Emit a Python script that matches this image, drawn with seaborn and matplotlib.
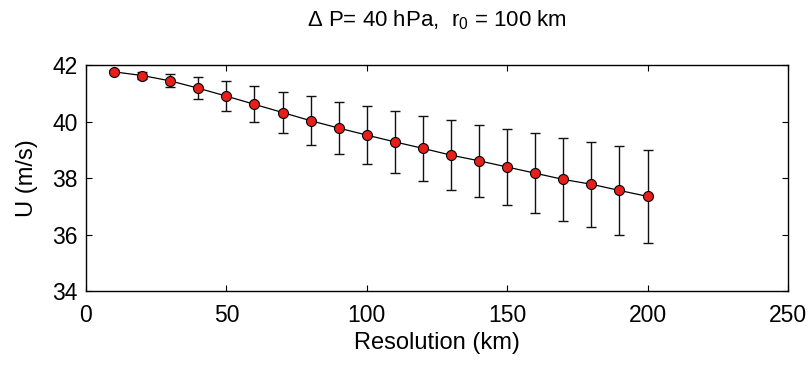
import matplotlib
matplotlib.use("Agg")
import matplotlib.pyplot as plt
import seaborn as sns
import pandas as pd

resolution = [10, 20, 30, 40, 50, 60, 70, 80, 90, 100, 110, 120, 130, 140, 150, 160, 170, 180, 190, 200]
u_mean = [41.76, 41.63, 41.44, 41.18, 40.90, 40.61, 40.32, 40.03, 39.77, 39.52,
          39.28, 39.05, 38.81, 38.61, 38.39, 38.17, 37.95, 37.78, 37.56, 37.35]
u_err = [0.05, 0.12, 0.23, 0.39, 0.52, 0.64, 0.74, 0.86, 0.93, 1.02,
         1.09, 1.15, 1.23, 1.28, 1.34, 1.41, 1.48, 1.51, 1.56, 1.65]

df = pd.DataFrame({"res": resolution, "u": u_mean, "err": u_err})

sns.set_theme(style="ticks")
plt.rcParams["font.family"] = ["Liberation Sans", "DejaVu Sans"]
plt.rcParams["mathtext.default"] = "regular"
for key in ["text.color", "axes.labelcolor", "xtick.color", "ytick.color", "axes.edgecolor"]:
    plt.rcParams[key] = "black"

fig = plt.figure(figsize=(8.09, 3.68), dpi=100)
ax = fig.add_axes([0.1063, 0.2092, 0.8677, 0.614])

ax.errorbar(df["res"], df["u"], yerr=df["err"], fmt="none", ecolor="#111111",
            elinewidth=1.0, capsize=3.3, capthick=1.0, zorder=2)
sns.lineplot(data=df, x="res", y="u", color="black", linewidth=0.9, ax=ax, zorder=3)
sns.scatterplot(data=df, x="res", y="u", color="#e81e1a", edgecolor="black",
                linewidth=0.8, s=52, ax=ax, zorder=4)

ax.set_xlim(0, 250)
ax.set_ylim(34, 42)
ax.set_xticks([0, 50, 100, 150, 200, 250])
ax.set_yticks([34, 36, 38, 40, 42])
ax.tick_params(direction="in", top=True, right=True, labelsize=16.5, length=4, width=0.8,
               colors="black")
ax.tick_params(axis="x", pad=9)
ax.tick_params(axis="y", pad=6)
for s in ax.spines.values():
    s.set_linewidth(1.0)
    s.set_color("black")

ax.set_xlabel("Resolution (km)", fontsize=17, labelpad=4, color="black")
ax.set_ylabel("U (m/s)", fontsize=17, labelpad=10, color="black")
ax.set_title(r"$\Delta$ P= 40 hPa,  r$_0$ = 100 km", fontsize=16, pad=28, color="black")

fig.savefig("out.png", dpi=100)
